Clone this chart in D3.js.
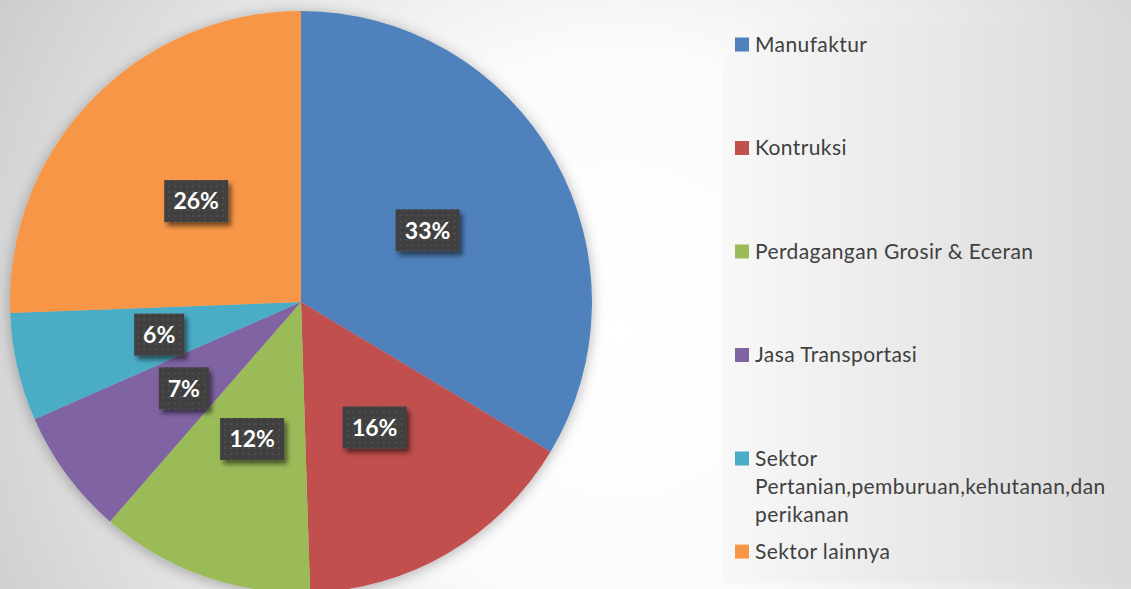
<!DOCTYPE html>
<html>
<head>
<meta charset="utf-8">
<script src="https://cdn.jsdelivr.net/npm/d3@7"></script>
<style>
  html, body { margin: 0; padding: 0; overflow: hidden; background: #fff; }
  svg { display: block; }
</style>
</head>
<body>
<svg id="chart" width="1131" height="589"></svg>
<script>
// ---- data ----
const categories = [
  "Manufaktur",
  "Kontruksi",
  "Perdagangan Grosir & Eceran",
  "Jasa Transportasi",
  "Sektor Pertanian,pemburuan,kehutanan,dan perikanan",
  "Sektor lainnya"
];
const values = [33.6, 15.9, 11.9, 7.0, 6.0, 25.6];
const labels = ["33%", "16%", "12%", "7%", "6%", "26%"];
const colors = ["#4F81BD", "#C0504D", "#9BBB59", "#8064A2", "#4BACC6", "#F79646"];

// ---- layout ----
const W = 1131, H = 589;
const cx = 301, cy = 302, R = 291;
const FONT = "Lato, 'Open Sans', 'DejaVu Sans', sans-serif";

const svg = d3.select("#chart");
const defs = svg.append("defs");

// background radial gradient
const bg = defs.append("radialGradient").attr("id", "bgGrad")
  .attr("gradientUnits", "userSpaceOnUse")
  .attr("cx", 620).attr("cy", 330).attr("r", 700);
bg.append("stop").attr("offset", "0%").attr("stop-color", "#ffffff");
bg.append("stop").attr("offset", "40%").attr("stop-color", "#fbfbfb");
bg.append("stop").attr("offset", "100%").attr("stop-color", "#cdcdcd");

// legend panel gradient
const lg = defs.append("linearGradient").attr("id", "legGrad")
  .attr("x1", "0%").attr("y1", "0%").attr("x2", "100%").attr("y2", "0%");
lg.append("stop").attr("offset", "0%").attr("stop-color", "#f8f8f8");
lg.append("stop").attr("offset", "100%").attr("stop-color", "#d9d9d9");

// pie shadow filter
const pf = defs.append("filter").attr("id", "pieShadow")
  .attr("x", "-20%").attr("y", "-20%").attr("width", "140%").attr("height", "140%");
pf.append("feGaussianBlur").attr("in", "SourceAlpha").attr("stdDeviation", 7).attr("result", "b");
pf.append("feOffset").attr("in", "b").attr("dx", 0).attr("dy", 2).attr("result", "o");
pf.append("feComponentTransfer").attr("in", "o").attr("result", "s")
  .append("feFuncA").attr("type", "linear").attr("slope", 0.3);
const pm = pf.append("feMerge");
pm.append("feMergeNode").attr("in", "s");
pm.append("feMergeNode").attr("in", "SourceGraphic");

// label shadow filter
const lf = defs.append("filter").attr("id", "labShadow")
  .attr("x", "-30%").attr("y", "-30%").attr("width", "170%").attr("height", "170%");
lf.append("feGaussianBlur").attr("in", "SourceAlpha").attr("stdDeviation", 2.5).attr("result", "b");
lf.append("feOffset").attr("in", "b").attr("dx", 3).attr("dy", 4).attr("result", "o");
lf.append("feComponentTransfer").attr("in", "o").attr("result", "s")
  .append("feFuncA").attr("type", "linear").attr("slope", 0.55);
const lm = lf.append("feMerge");
lm.append("feMergeNode").attr("in", "s");
lm.append("feMergeNode").attr("in", "SourceGraphic");

// dotted pattern for label boxes
const pat = defs.append("pattern").attr("id", "dots")
  .attr("patternUnits", "userSpaceOnUse").attr("width", 6).attr("height", 6);
pat.append("rect").attr("width", 6).attr("height", 6).attr("fill", "#404040");
pat.append("circle").attr("cx", 3).attr("cy", 3).attr("r", 1).attr("fill", "#555555");

// background
svg.append("rect").attr("width", W).attr("height", H).attr("fill", "url(#bgGrad)");

// legend panel
svg.append("rect").attr("x", 722).attr("y", 22).attr("width", W - 722).attr("height", 561)
  .attr("fill", "url(#legGrad)");

// ---- pie ----
const pie = d3.pie().sort(null).value(d => d.v);
const data = categories.map((c, i) => ({ c, v: values[i], color: colors[i], label: labels[i] }));
const arcs = pie(data);
const arc = d3.arc().innerRadius(0).outerRadius(R);
const labelArc = d3.arc().innerRadius(R * 0.5).outerRadius(R * 0.5);

const g = svg.append("g").attr("transform", `translate(${cx},${cy})`);
g.append("g").attr("filter", "url(#pieShadow)")
  .selectAll("path").data(arcs).join("path")
  .attr("d", arc)
  .attr("fill", d => d.data.color);

// data labels
const lab = g.selectAll("g.lab").data(arcs).join("g").attr("class", "lab")
  .attr("transform", d => `translate(${labelArc.centroid(d)})`);
const boxH = 42;
lab.each(function(d) {
  const sel = d3.select(this);
  const boxW = d.data.label.length >= 3 ? 64 : 50;
  sel.append("rect")
    .attr("x", -boxW / 2).attr("y", -boxH / 2)
    .attr("width", boxW).attr("height", boxH)
    .attr("fill", "url(#dots)")
    .attr("filter", "url(#labShadow)");
  sel.append("text")
    .attr("text-anchor", "middle")
    .attr("dy", "0.36em")
    .attr("fill", "#ffffff")
    .attr("font-family", FONT)
    .attr("font-weight", "bold")
    .attr("font-size", 23)
    .text(d.data.label);
});

// ---- legend ----
const legX = 735, swatch = 14, textX = 755, lineH = 28.3, maxW = 372;
const leg = svg.append("g");
let yBase = 51.5;
data.forEach((d, i) => {
  if (i > 0) {
    const prev = data[i - 1];
    yBase = (i === 5)
      ? prev._y + (prev._lines - 1) * lineH + 36.5
      : prev._y + 103.5;
  }
  d._y = yBase;
  const item = leg.append("g");
  item.append("rect").attr("x", legX).attr("y", yBase - 14)
    .attr("width", swatch).attr("height", swatch).attr("fill", d.color);
  const text = item.append("text")
    .attr("x", textX).attr("y", yBase)
    .attr("fill", "#404040")
    .attr("font-family", FONT)
    .attr("font-size", 21)
    .attr("letter-spacing", 0.4);
  // wrap words
  const words = d.c.split(" ");
  let line = [], lineNo = 0;
  let tspan = text.append("tspan").attr("x", textX).attr("y", yBase);
  words.forEach(w => {
    line.push(w);
    tspan.text(line.join(" "));
    if (tspan.node().getComputedTextLength() > maxW && line.length > 1) {
      line.pop();
      tspan.text(line.join(" "));
      line = [w];
      lineNo++;
      tspan = text.append("tspan").attr("x", textX).attr("y", yBase + lineNo * lineH).text(w);
    }
  });
  d._lines = lineNo + 1;
});
</script>
</body>
</html>
